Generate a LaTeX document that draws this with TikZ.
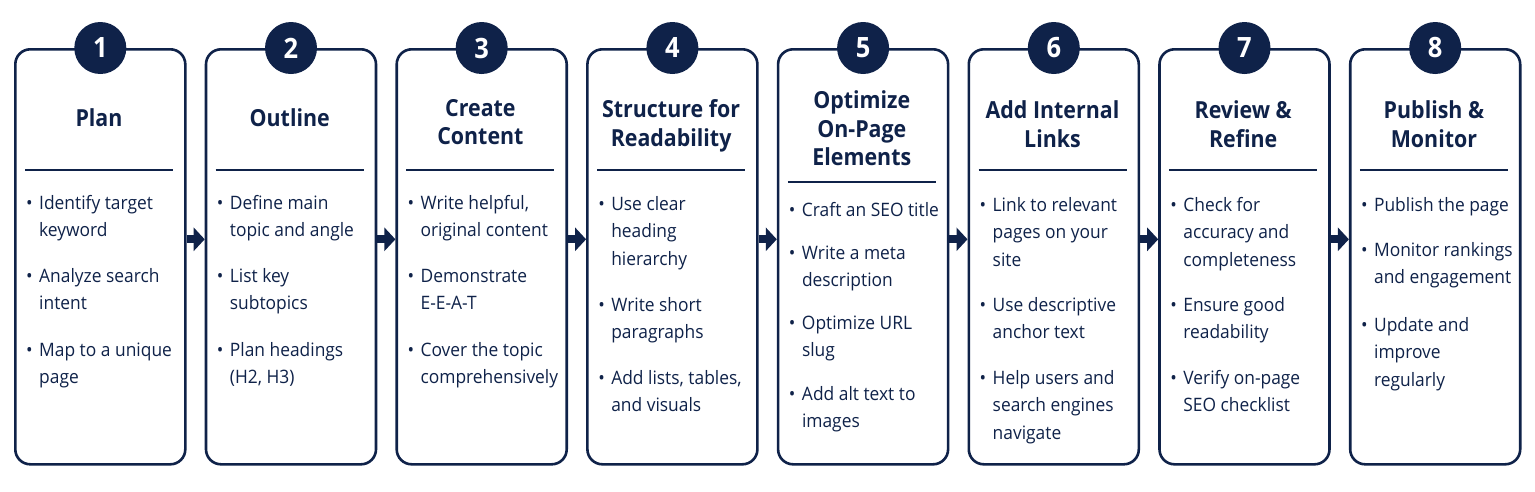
\documentclass[tikz,border=0pt]{standalone}
\usepackage{fontspec}
\setmainfont{Open Sans}[FakeStretch=0.94]
\newfontfamily\ttlfont{Open Sans}[FakeStretch=0.91]
\usetikzlibrary{arrows.meta}
\definecolor{navy}{HTML}{0F2249}
\tikzset{
  card/.style={draw=navy, line width=2.6pt, rounded corners=15pt, minimum width=170pt, minimum height=415pt, inner sep=0pt, fill=white, anchor=north west},
  badge/.style={circle, fill=navy, minimum size=52pt, inner sep=0pt, text=white, font=\ttlfont\bfseries\fontsize{28}{28}\selectfont},
  ttl/.style={align=center, text=navy, inner sep=0pt, font=\ttlfont\bfseries\fontsize{23.5}{28.5}\selectfont, anchor=base},
  itm/.style={align=left, text=navy, inner sep=0pt, font=\fontsize{18.5}{27.7}\selectfont, anchor=base west},
  sepline/.style={draw=navy, line width=1.8pt},
  arr/.style={draw=navy, line width=8pt, -{Triangle[width=23pt,length=11pt]}},
}
\newcommand{\bl}{\llap{\textbullet\hspace{6.5pt}}}
\begin{document}
\begin{tikzpicture}[x=1pt,y=-1pt]
\useasboundingbox[fill=white] (0,0) rectangle (1535,491);
% card 1
\begin{scope}[shift={(14,0)}]
\node[card] (c1) at (0,48) {};
\node[badge] (b1) at (c1.north) {1};
\node[ttl] (t1) at (85,126.5) {Plan};
\draw[sepline] (11,170) coordinate (s1a) -- (159,170) coordinate (s1b);
\node[itm] (i1a) at (25,236.7) {\bl Identify target\\keyword};
\node[itm] (i1b) at (25,309.7) {\bl Analyze search\\intent};
\node[itm] (i1c) at (25,383.7) {\bl Map to a unique\\page};
\end{scope}
% card 2
\begin{scope}[shift={(204.7,0)}]
\node[card] (c2) at (0,48) {};
\node[badge] (b2) at (c2.north) {2};
\node[ttl] (t2) at (85,126.5) {Outline};
\draw[sepline] (11,170) coordinate (s2a) -- (159,170) coordinate (s2b);
\node[itm] (i2a) at (25,236.7) {\bl Define main\\topic and angle};
\node[itm] (i2b) at (25,309.7) {\bl List key\\subtopics};
\node[itm] (i2c) at (25,383.7) {\bl Plan headings\\(H2, H3)};
\end{scope}
% card 3
\begin{scope}[shift={(395.4,0)}]
\node[card] (c3) at (0,48) {};
\node[badge] (b3) at (c3.north) {3};
\node[ttl] (t3) at (85,144.5) {Create\\Content};
\draw[sepline] (11,170) coordinate (s3a) -- (159,170) coordinate (s3b);
\node[itm] (i3a) at (25,236.7) {\bl Write helpful,\\original content};
\node[itm] (i3b) at (25,309.7) {\bl Demonstrate\\E-E-A-T};
\node[itm] (i3c) at (25,383.7) {\bl Cover the topic\\comprehensively};
\end{scope}
% card 4
\begin{scope}[shift={(586.1,0)}]
\node[card] (c4) at (0,48) {};
\node[badge] (b4) at (c4.north) {4};
\node[ttl] (t4) at (85,146) {Structure for\\Readability};
\draw[sepline] (11,170) coordinate (s4a) -- (159,170) coordinate (s4b);
\node[itm] (i4a) at (25,265.4) {\bl Use clear\\heading\\hierarchy};
\node[itm] (i4b) at (25,338.7) {\bl Write short\\paragraphs};
\node[itm] (i4c) at (25,411.7) {\bl Add lists, tables,\\and visuals};
\end{scope}
% card 5
\begin{scope}[shift={(776.8,0)}]
\node[card] (c5) at (0,48) {};
\node[badge] (b5) at (c5.north) {5};
\node[ttl] (t5) at (85,165.5) {Optimize\\On-Page\\Elements};
\draw[sepline] (11,182) coordinate (s5a) -- (159,182) coordinate (s5b);
\node[itm] (i5a) at (25,216) {\bl Craft an SEO title};
\node[itm] (i5b) at (25,286.7) {\bl Write a meta\\description};
\node[itm] (i5c) at (25,356.7) {\bl Optimize URL\\slug};
\node[itm] (i5d) at (25,427.7) {\bl Add alt text to\\images};
\end{scope}
% card 6
\begin{scope}[shift={(967.5,0)}]
\node[card] (c6) at (0,48) {};
\node[badge] (b6) at (c6.north) {6};
\node[ttl] (t6) at (85,147) {Add Internal\\Links};
\draw[sepline] (11,170) coordinate (s6a) -- (159,170) coordinate (s6b);
\node[itm] (i6a) at (25,266.4) {\bl Link to relevant\\pages on your\\site};
\node[itm] (i6b) at (25,338.7) {\bl Use descriptive\\anchor text};
\node[itm] (i6c) at (25,439.4) {\bl Help users and\\search engines\\navigate};
\end{scope}
% card 7
\begin{scope}[shift={(1158.2,0)}]
\node[card] (c7) at (0,48) {};
\node[badge] (b7) at (c7.north) {7};
\node[ttl] (t7) at (85,147) {Review \&\\Refine};
\draw[sepline] (11,170) coordinate (s7a) -- (159,170) coordinate (s7b);
\node[itm] (i7a) at (25,266.4) {\bl Check for\\accuracy and\\completeness};
\node[itm] (i7b) at (25,338.7) {\bl Ensure good\\readability};
\node[itm] (i7c) at (25,411.7) {\bl Verify on-page\\SEO checklist};
\end{scope}
% card 8
\begin{scope}[shift={(1348.9,0)}]
\node[card] (c8) at (0,48) {};
\node[badge] (b8) at (c8.north) {8};
\node[ttl] (t8) at (85,147) {Publish \&\\Monitor};
\draw[sepline] (11,170) coordinate (s8a) -- (159,170) coordinate (s8b);
\node[itm] (i8a) at (25,211) {\bl Publish the page};
\node[itm] (i8b) at (25,283.7) {\bl Monitor rankings\\and engagement};
\node[itm] (i8c) at (25,386.4) {\bl Update and\\improve\\regularly};
\end{scope}
% arrows
\foreach \a/\b in {c1/c2,c2/c3,c3/c4,c4/c5,c5/c6,c6/c7,c7/c8}
  \draw[arr] ([yshift=17.5pt]\a.east) -- ([yshift=17.5pt]\b.west);
\end{tikzpicture}
\end{document}
